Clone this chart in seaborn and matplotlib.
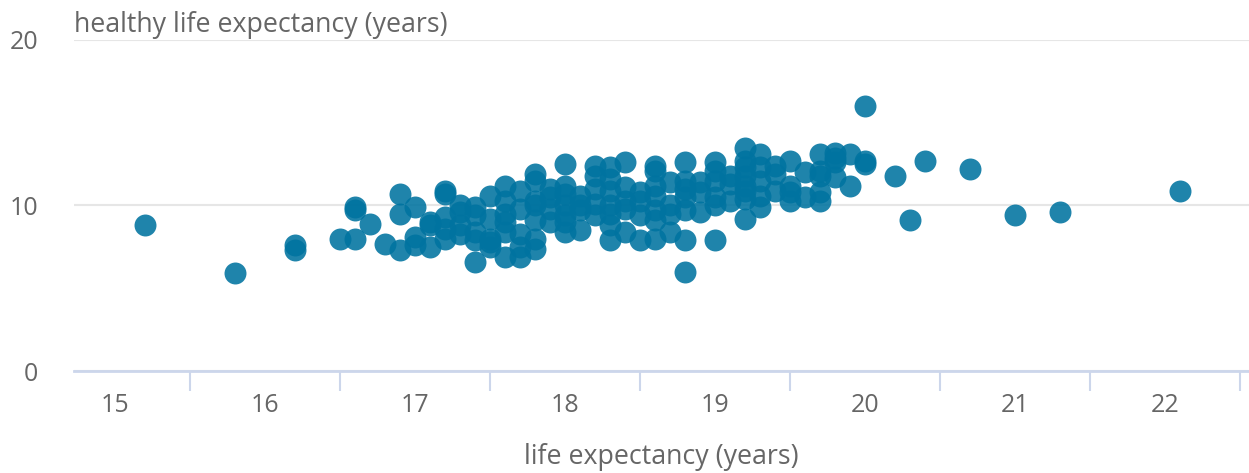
import matplotlib
matplotlib.use("Agg")
import matplotlib.pyplot as plt
import seaborn as sns
import pandas as pd
from matplotlib.ticker import FixedLocator

# life expectancy column values and the healthy life expectancy points in each column
life_exp = [15.2, 15.8, 16.2, 16.5, 16.6, 16.7, 16.8, 16.9, 17.0, 17.1,
            17.2, 17.3, 17.4, 17.5, 17.6, 17.7, 17.8, 17.9, 18.0, 18.1,
            18.2, 18.3, 18.4, 18.5, 18.6, 18.7, 18.8, 18.9, 19.0, 19.1,
            19.2, 19.3, 19.4, 19.5, 19.6, 19.7, 19.8, 19.9, 20.0, 20.2,
            20.3, 20.4, 20.7, 21.0, 21.3, 22.1]
healthy_exp = [
    [8.8], [5.9], [7.6, 7.3], [8.0], [9.9, 9.7, 8.0], [8.9], [7.7],
    [10.7, 9.5, 7.3], [9.9, 8.1, 7.6], [8.8, 7.5, 9.0],
    [10.9, 10.7, 9.3, 8.0, 8.6], [10.0, 8.8, 9.6, 8.3],
    [6.6, 8.4, 9.4, 9.9, 7.9], [10.6, 9.2, 8.0, 7.5, 7.8],
    [11.2, 9.5, 8.4, 6.9, 10.3, 9.0], [10.9, 8.3, 6.9, 9.8, 7.5],
    [11.9, 11.5, 10.3, 9.1, 7.4, 8.0, 10.0], [11.0, 9.8, 9.0, 10.5],
    [12.5, 11.2, 10.0, 8.4, 9.4, 10.7, 9.0], [10.6, 9.7, 8.5, 10.0],
    [12.4, 11.8, 9.4, 10.1, 11.0], [12.3, 10.9, 10.0, 8.8, 7.9, 9.5, 11.6],
    [12.6, 11.1, 8.4, 10.3, 9.8], [10.3, 9.4, 7.9, 10.8],
    [12.4, 12.1, 10.6, 9.1, 8.0, 11.2, 9.7], [11.4, 10.0, 8.4, 9.5],
    [12.6, 11.5, 9.7, 7.9, 6.0, 10.5, 11.0], [10.8, 9.6, 11.4],
    [12.6, 12.1, 10.5, 7.9, 11.5, 10.0], [11.8, 10.3, 11.3],
    [13.5, 12.7, 11.8, 10.9, 9.2, 12.3, 11.2, 10.4],
    [13.1, 11.5, 9.9, 10.6, 12.3], [12.4, 10.9, 11.9],
    [12.7, 11.2, 10.3, 10.8], [12.0, 10.5],
    [13.1, 11.8, 10.8, 10.3, 12.1], [13.2, 12.6, 11.7, 12.9],
    [13.1, 11.2], [16.0, 12.7, 12.5], [11.8], [9.1], [12.7], [12.2],
    [9.4], [9.6], [10.9]]

x_ticks = [15, 16, 17, 18, 19, 20, 21, 22]
y_ticks = [0, 10, 20]

rows = [(x, y) for x, ys in zip(life_exp, healthy_exp) for y in ys]
df = pd.DataFrame(rows, columns=["life", "healthy"])

sns.set_style("white")
plt.rcParams["font.family"] = ["Open Sans", "DejaVu Sans"]

W, H = 1249, 473
fig = plt.figure(figsize=(W / 100, H / 100), dpi=100)
ax = fig.add_axes([74 / W, 102 / H, 1175 / W, 331 / H])

sns.scatterplot(data=df, x="life", y="healthy", ax=ax, s=250,
                color="#0073a0", alpha=0.88, linewidth=0, zorder=3)

ax.set_xlim(14.727, 22.56)
ax.set_ylim(0, 20)

for s in ["top", "right", "left"]:
    ax.spines[s].set_visible(False)
ax.spines["bottom"].set_color("#ccd6eb")
ax.spines["bottom"].set_linewidth(2)
ax.spines["bottom"].set_zorder(2)

ax.set_yticks(y_ticks)
ax.yaxis.grid(True, color="#e6e6e6", linewidth=1.5)
ax.set_axisbelow(True)
ax.tick_params(axis="y", length=0, pad=26, labelsize=18, labelcolor="#666666")

ax.xaxis.set_major_locator(FixedLocator(x_ticks))
ax.xaxis.set_minor_locator(FixedLocator([t + 0.5 for t in x_ticks]))
ax.tick_params(axis="x", which="major", bottom=True, length=0, pad=16,
               labelsize=18, labelcolor="#666666")
ax.tick_params(axis="x", which="minor", bottom=True, length=14.5, width=1.5,
               color="#ccd6eb", direction="out")

ax.set_xlabel("life expectancy (years)", fontsize=19.3, color="#666666",
              labelpad=18)
ax.set_ylabel("")

fig.text(74 / W, 1 - 25 / H, "healthy life expectancy (years)", fontsize=19.3,
         color="#666666", ha="left", va="center")

fig.savefig("out.png", dpi=100)
